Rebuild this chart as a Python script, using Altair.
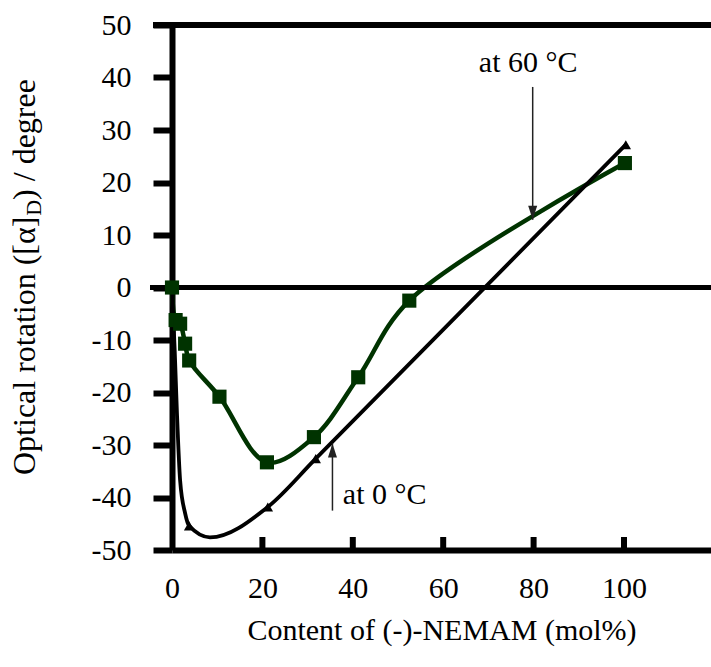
import altair as alt
import pandas as pd

# ---- data ----
green_x = [0, 0.8, 1.8, 2.9, 3.8, 10.5, 21.0, 31.4, 41.2, 52.5, 100.2]
green_y = [0, -6.2, -6.9, -10.7, -13.9, -20.8, -33.3, -28.5, -17.1, -2.5, 23.7]

black_x = [0, 0.6, 1.1, 1.8, 2.9, 3.8, 8.4, 21.2, 31.8, 100.4]
black_y = [0, -12, -24, -36.8, -43, -45.4, -47.6, -41.8, -32.6, 27.2]

tri_x = [3.8, 21.2, 31.8, 100.4]
tri_y = [-45.4, -41.8, -32.6, 27.2]

x_ticks = [0, 20, 40, 60, 80, 100]
inner_ticks = [20, 40, 60, 80, 100]
y_ticks = [-50, -40, -30, -20, -10, 0, 10, 20, 30, 40, 50]

ann_text = ["at 60 °C", "at 0 °C"]
ann_x = [78.8, 37.8]
ann_y = [42.7, -39.6]
arrow_x = [79.8, 35.5]
arrow_from = [38.2, -42.5]
arrow_to = [12.9, -29.7]

FONT = "Liberation Serif"
FS = 30
W, H = 539, 525

green = pd.DataFrame({"x": green_x, "y": green_y})
black = pd.DataFrame({"x": black_x, "y": black_y})
tri = pd.DataFrame({"x": tri_x, "y": tri_y})

xs = alt.Scale(domain=[0, 119.25], nice=False, zero=False)
ys = alt.Scale(domain=[-50, 50], nice=False, zero=False)

x_axis = alt.Axis(values=x_ticks, ticks=False, tickSize=0, grid=False,
                  domainColor="black", domainWidth=6, labelFlush=False,
                  labelFont=FONT, labelFontSize=FS, labelColor="black", labelPadding=23,
                  labelExpr="'' + datum.value",
                  title="Content of (-)-NEMAM (mol%)", titleFont=FONT, titleFontSize=FS,
                  titleFontWeight="normal", titleColor="black",
                  titleBaseline="alphabetic", titleY=89)
y_axis = alt.Axis(values=y_ticks, grid=False, domainColor="black", domainWidth=6,
                  tickColor="black", tickWidth=6, tickSize=19, labelFlush=False,
                  labelFont=FONT, labelFontSize=FS, labelColor="black", labelPadding=22,
                  labelExpr="'' + datum.value",
                  title="")

X = alt.X("x:Q", scale=xs, axis=x_axis)
Y = alt.Y("y:Q", scale=ys, axis=y_axis)

base_green = alt.Chart(green).encode(x=X, y=Y)
green_line = base_green.mark_line(color="#003300", strokeWidth=4.5, interpolate="catmull-rom")
green_pts = base_green.mark_point(shape="square", filled=True, size=200, color="#003300", opacity=1)

black_line = alt.Chart(black).mark_line(color="black", strokeWidth=3.8, interpolate="monotone").encode(
    x="x:Q", y="y:Q")
black_pts = alt.Chart(tri).mark_point(shape="triangle-up", filled=True, size=110, color="black", opacity=1).encode(
    x="x:Q", y="y:Q")

# frame lines: top border and zero line
top_line = alt.Chart(pd.DataFrame({"y": [50]})).mark_rule(color="black", strokeWidth=6).encode(
    y="y:Q", x=alt.value(-19), x2=alt.value(W))
zero_line = alt.Chart(pd.DataFrame({"y": [0]})).mark_rule(color="black", strokeWidth=5).encode(
    y="y:Q", x=alt.value(-22), x2=alt.value(W))

# inward ticks on the x axis
xt = alt.Chart(pd.DataFrame({"x": inner_ticks})).mark_rule(color="black", strokeWidth=6).encode(
    x="x:Q", y=alt.value(H - 13), y2=alt.value(H))

# annotations
ann = pd.DataFrame({"t": ann_text, "x": ann_x, "y": ann_y})
ann60 = alt.Chart(ann.iloc[[0]]).mark_text(font=FONT, fontSize=FS, color="black", align="center",
                                           baseline="middle").encode(x="x:Q", y="y:Q", text="t:N")
ann0 = alt.Chart(ann.iloc[[1]]).mark_text(font=FONT, fontSize=FS, color="black", align="left",
                                          baseline="middle").encode(x="x:Q", y="y:Q", text="t:N")
arr = pd.DataFrame({"x": arrow_x, "y": arrow_from, "y2": arrow_to})
arrow_lines = alt.Chart(arr).mark_rule(color="#222222", strokeWidth=1.5).encode(
    x="x:Q", y="y:Q", y2="y2:Q")
head_down = alt.Chart(arr.iloc[[0]]).mark_point(
    shape="M0,0L-0.45,-1.4L0.45,-1.4Z", filled=True, size=400, color="#222222", opacity=1
).encode(x="x:Q", y="y2:Q")
head_up = alt.Chart(arr.iloc[[1]]).mark_point(
    shape="M0,0L-0.45,1.4L0.45,1.4Z", filled=True, size=400, color="#222222", opacity=1
).encode(x="x:Q", y="y2:Q")

# y axis title with subscript D (rotated)
TF = 32
w1 = 8.1 * TF
wd = 0.722 * 22
y0 = 450
ttl = pd.DataFrame({"t": ["Optical rotation ([α]", "D", ") / degree"]})
t1 = alt.Chart(ttl.iloc[[0]]).mark_text(font=FONT, fontSize=TF, angle=270, align="left",
                                        baseline="alphabetic", color="black").encode(
    text="t:N", x=alt.value(-137), y=alt.value(y0))
t2 = alt.Chart(ttl.iloc[[1]]).mark_text(font=FONT, fontSize=22, angle=270, align="left",
                                        baseline="alphabetic", color="black").encode(
    text="t:N", x=alt.value(-131), y=alt.value(y0 - w1))
t3 = alt.Chart(ttl.iloc[[2]]).mark_text(font=FONT, fontSize=TF, angle=270, align="left",
                                        baseline="alphabetic", color="black").encode(
    text="t:N", x=alt.value(-137), y=alt.value(y0 - w1 - wd))

chart = alt.layer(
    green_line, top_line, zero_line, xt, black_line, black_pts, green_pts,
    arrow_lines, head_down, head_up, ann60, ann0, t1, t2, t3
).properties(
    width=W, height=H,
    autosize=alt.AutoSizeParams(type="none"),
    padding={"left": 172, "top": 25, "right": 0, "bottom": 117},
).configure_view(stroke=None).configure(background="white")

chart.save("out.html", embed_options={"renderer": "svg", "actions": False})
